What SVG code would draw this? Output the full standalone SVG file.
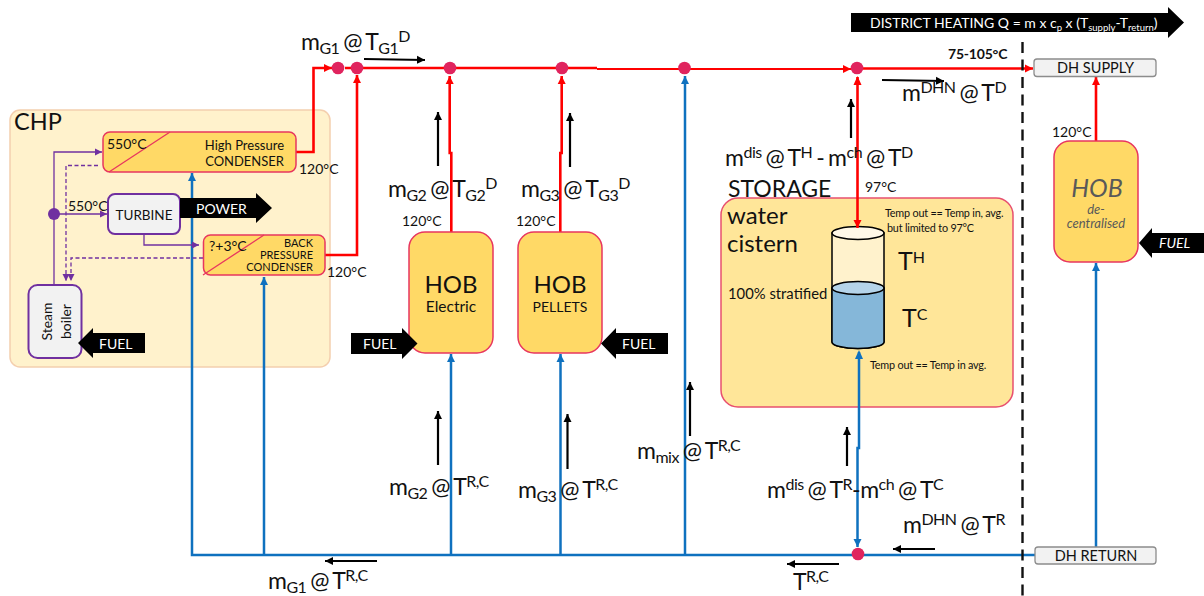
<svg xmlns="http://www.w3.org/2000/svg" width="1204" height="596" viewBox="0 0 1204 596">
<style>
text{font-family:Lato,"Open Sans","Liberation Sans",sans-serif;fill:#111}
.lbl{font-size:23px;word-spacing:-1.500px;letter-spacing:-0.5px}
.sub{font-size:16px}
.t14{font-size:14px}
.t13{font-size:13px}
.note{font-size:10.800px;letter-spacing:-0.2px}
.w{fill:#fff}
.m{text-anchor:middle}
.e{text-anchor:end}
.red{fill:none;stroke:#ff0000;stroke-width:2.6}
.blue{fill:none;stroke:#0f71bf;stroke-width:2.500}
.pur{fill:none;stroke:#7030a0;stroke-width:1.300}
.dash{stroke-dasharray:4 2.500}
.flow{fill:none;stroke:#000;stroke-width:2.200}
.cond{fill:#ffd966;stroke:#e8365f;stroke-width:1.500}
.unit{fill:#f2f2f2;stroke:#7030a0;stroke-width:2}
.term{fill:#f2f2f2;stroke:#8c8c8c;stroke-width:1.300}
.dot{fill:#e0245e}
.cyl{stroke:#000;stroke-width:1.500}
</style>
<defs>
<marker id="ar" markerUnits="userSpaceOnUse" markerWidth="10" markerHeight="10" refX="9" refY="5" orient="auto"><path d="M1 1L9 5L1 9Z" fill="#ff0000"/></marker>
<marker id="ab" markerUnits="userSpaceOnUse" markerWidth="10" markerHeight="10" refX="9" refY="5" orient="auto"><path d="M1 1L9 5L1 9Z" fill="#0f71bf"/></marker>
<marker id="ap" markerUnits="userSpaceOnUse" markerWidth="10" markerHeight="10" refX="8" refY="5" orient="auto"><path d="M1 1.500L8 5L1 8.500Z" fill="#7030a0"/></marker>
<marker id="ak" markerUnits="userSpaceOnUse" markerWidth="10" markerHeight="10" refX="8" refY="5" orient="auto"><path d="M0 1L8 5L0 9Z" fill="#000"/></marker>
</defs>

<g id="chp"><rect x="10" y="110" width="320" height="257" rx="10" fill="#fff2cc" stroke="#f4cfae" stroke-width="1.500"/><text x="14" y="130" font-size="23.500">CHP</text></g>
<g id="storage"><rect x="721" y="198" width="292" height="209" rx="17" fill="#ffe699" stroke="#e8506f" stroke-width="1.500"/>
<text x="728" y="197" font-size="23">STORAGE</text>
<text x="727" y="224" font-size="24">water</text><text x="727" y="252" font-size="24">cistern</text>
<text x="728" y="299" font-size="14.800">100% stratified</text>
<text x="885" y="217" class="note">Temp out == Temp in, avg.</text>
<text x="887" y="232" class="note">but limited to 97°C</text>
<text x="870" y="369" class="note">Temp out == Temp in avg.</text>
<text x="898" y="270" font-size="25">T<tspan font-size="16" dy="-7">H</tspan></text>
<text x="902" y="327" font-size="25">T<tspan font-size="16" dy="-7">C</tspan></text>
<path d="M832 233V342A26 6.500 0 0 0 884 342V233Z" fill="#fff2cc" class="cyl"/>
<path d="M832 288V342A26 6.500 0 0 0 884 342V288Z" fill="#85b7d9" class="cyl"/>
<ellipse cx="858" cy="288" rx="26" ry="6.500" fill="#b5d4ea" class="cyl"/>
<ellipse cx="858" cy="233" rx="26" ry="6.500" fill="#fff8e8" class="cyl"/>
</g>

<g id="connectors">
<path class="blue" d="M1035 555H192V173" marker-end="url(#ab)"/>
<path class="blue" d="M264 555V277" marker-end="url(#ab)"/>
<path class="blue" d="M451 555V354" marker-end="url(#ab)"/>
<path class="blue" d="M560.500 555V354" marker-end="url(#ab)"/>
<path class="blue" d="M685 555V76" marker-end="url(#ab)"/>
<path class="blue" d="M1096 547V263" marker-end="url(#ab)"/>
<path class="blue" d="M859 352V448H857.500V547" marker-end="url(#ab)"/>
<path d="M859 350L855 359H863Z" fill="#0f71bf"/>
<path class="red" d="M296 152H313.500V68H332" marker-end="url(#ar)"/>
<path class="red" d="M325 255H357V75" marker-end="url(#ar)"/>
<path class="red" d="M345 68H597"/>
<path d="M597 69H851" fill="none" stroke="#ff0000" stroke-width="2.200" marker-end="url(#ar)"/>
<path class="red" d="M863 68.500H1033" marker-end="url(#ar)"/>
<path class="red" d="M451.300 232V153H449.700V76" marker-end="url(#ar)"/>
<path class="red" d="M560.300 232V153H561.700V76" marker-end="url(#ar)"/>
<path class="red" d="M857.500 77V228" marker-end="url(#ar)"/>
<path d="M857.500 76L853.500 85H861.500Z" fill="#ff0000"/>
<path class="red" d="M1096 141V77" marker-end="url(#ar)"/>
<path class="pur" d="M54 285V152H102" marker-end="url(#ap)"/>
<path class="pur" d="M54 214H107" marker-end="url(#ap)"/>
<path class="pur" d="M144 234V245H199" marker-end="url(#ap)"/>
<path class="pur dash" d="M98 165.500H66V281" marker-end="url(#ap)"/>
<path class="pur dash" d="M203 258H71V281" marker-end="url(#ap)"/>
<path d="M1022.500 42V596" fill="none" stroke="#111" stroke-width="2.400" stroke-dasharray="11 6.500"/>
<path class="flow" d="M364 59L425 60" marker-end="url(#ak)"/>
<path class="flow" d="M438 166V112" marker-end="url(#ak)"/>
<path class="flow" d="M570 167V113" marker-end="url(#ak)"/>
<path class="flow" d="M851 138V99" marker-end="url(#ak)"/>
<path class="flow" d="M882 80L944 81" marker-end="url(#ak)"/>
<path class="flow" d="M438 465V411" marker-end="url(#ak)"/>
<path class="flow" d="M567.500 469V414" marker-end="url(#ak)"/>
<path class="flow" d="M690 436V382" marker-end="url(#ak)"/>
<path class="flow" d="M847 466V427" marker-end="url(#ak)"/>
<path class="flow" d="M377 561H325" marker-end="url(#ak)"/>
<path class="flow" d="M839 564H787" marker-end="url(#ak)"/>
<path class="flow" d="M935 549H893" marker-end="url(#ak)"/>
<circle class="dot" cx="338" cy="68" r="6.300"/><circle class="dot" cx="357" cy="68" r="6.300"/><circle class="dot" cx="450" cy="68" r="6.300"/><circle class="dot" cx="562" cy="68" r="6.300"/><circle class="dot" cx="684.500" cy="68" r="6.300"/><circle class="dot" cx="857" cy="68" r="6.300"/><circle class="dot" cx="858" cy="554" r="6.300"/>
<circle cx="54" cy="214" r="6" fill="#7030a0"/>
</g>

<g id="hp-condenser"><rect class="cond" x="103" y="132" width="193" height="40" rx="7"/><path d="M109 172L170 132" stroke="#e8365f" stroke-width="1.300"/>
<text x="107" y="149" class="t14">550°C</text>
<text x="284" y="150" class="t13 e">High Pressure</text><text x="284" y="166" class="t13 e">CONDENSER</text></g>
<g id="turbine"><rect class="unit" x="108" y="194" width="72" height="40" rx="7"/><text x="144" y="220" class="m" font-size="13.500">TURBINE</text></g>
<g id="bp-condenser"><rect class="cond" x="203.500" y="235" width="121.500" height="40" rx="7"/><path d="M203 275L264 235" stroke="#e8365f" stroke-width="1.300"/>
<text x="209" y="251" class="t14">?+3°C</text>
<text x="313" y="247" font-size="11" class="e">BACK</text><text x="313" y="259" font-size="11" class="e">PRESSURE</text><text x="313" y="271" font-size="11" class="e">CONDENSER</text></g>
<g id="steam-boiler"><rect class="unit" x="28.500" y="285" width="53" height="73" rx="9"/>
<text transform="translate(52 321.500) rotate(-90)" class="t14 m">Steam</text><text transform="translate(71 321.500) rotate(-90)" class="t14 m">boiler</text></g>
<g id="power"><path d="M180 198H256V193L272 208L256 223V218H180Z" fill="#000"/><text x="196" y="214" class="t14 w">POWER</text></g>
<g id="fuel-chp"><path d="M78 343L93 328V333H145V353H93V358Z" fill="#000"/><text x="99" y="349" class="t14 w">FUEL</text></g>
<g id="hob-electric"><rect class="cond" x="409" y="232" width="84" height="121" rx="16"/><text x="451" y="293" font-size="24" class="m">HOB</text><text x="451" y="312" font-size="15.500" class="m">Electric</text></g>
<g id="fuel-electric"><path d="M351 333H402V328L417.500 343.500L402 359V354H351Z" fill="#000"/><text x="363" y="349" class="t14 w">FUEL</text></g>
<g id="hob-pellets"><rect class="cond" x="518" y="232" width="84" height="121" rx="16"/><text x="560" y="293" font-size="24" class="m">HOB</text><text x="560" y="312" class="t14 m">PELLETS</text></g>
<g id="fuel-pellets"><path d="M601 343.500L616 328V333H668V354H616V359Z" fill="#000"/><text x="622" y="349" class="t14 w">FUEL</text></g>
<g id="hob-decentral"><rect class="cond" x="1054" y="141" width="84" height="121" rx="16"/>
<text x="1097" y="197" font-size="25" font-style="italic" class="m" style="fill:#595959">HOB</text>
<text x="1096" y="214" font-size="13" font-style="italic" class="m" style="fill:#595959">de-</text>
<text x="1096" y="228" font-size="13" font-style="italic" class="m" style="fill:#595959">centralised</text></g>
<g id="fuel-hob"><path d="M1139 243L1152 228V233H1204V253H1152V258Z" fill="#000"/><text x="1159" y="248" class="t14 w" font-style="italic">FUEL</text></g>
<g id="dh-banner"><path d="M851 13H1168V7L1184 22.500L1168 38V32H851Z" fill="#000"/>
<text x="870" y="28" class="t14 w">DISTRICT HEATING Q = m x c<tspan font-size="9.500" dy="3">p</tspan><tspan dy="-3"> x (T</tspan><tspan font-size="9.500" dy="3">supply</tspan><tspan dy="-3">-T</tspan><tspan font-size="9.500" dy="3">return</tspan><tspan dy="-3">)</tspan></text></g>
<g id="dh-supply"><rect class="term" x="1034" y="59" width="122" height="17.500" rx="3"/><text x="1095.500" y="73" font-size="14.500" class="m">DH SUPPLY</text></g>
<g id="dh-return"><rect class="term" x="1035" y="547" width="121" height="17" rx="3"/><text x="1096" y="561" font-size="14.500" class="m">DH RETURN</text></g>

<g id="labels">
<text x="948" y="59" font-size="14" font-weight="700" letter-spacing="-0.2">75-105°C</text>
<text x="299" y="174" class="t14">120°C</text>
<text x="327" y="277" class="t14">120°C</text>
<text x="402" y="226" class="t14">120°C</text>
<text x="516" y="226" class="t14">120°C</text>
<text x="1052" y="137" class="t14">120°C</text>
<text x="865" y="192" class="t14">97°C</text>
<text x="68" y="211" class="t14">550°C</text>
<text x="301" y="50" class="lbl">m<tspan class="sub" dy="4">G1</tspan><tspan dy="-4"> @ T</tspan><tspan class="sub" dy="4">G1</tspan><tspan class="sub" dy="-12">D</tspan></text>
<text x="388" y="197" class="lbl">m<tspan class="sub" dy="4">G2</tspan><tspan dy="-4"> @ T</tspan><tspan class="sub" dy="4">G2</tspan><tspan class="sub" dy="-12">D</tspan></text>
<text x="521" y="197" class="lbl">m<tspan class="sub" dy="4">G3</tspan><tspan dy="-4"> @ T</tspan><tspan class="sub" dy="4">G3</tspan><tspan class="sub" dy="-12">D</tspan></text>
<text x="902" y="101" class="lbl">m<tspan class="sub" dy="-8">DHN</tspan><tspan dy="8"> @ T</tspan><tspan class="sub" dy="-8">D</tspan></text>
<text x="725" y="166" class="lbl">m<tspan class="sub" dy="-8">dis</tspan><tspan dy="8"> @ T</tspan><tspan class="sub" dy="-8">H</tspan><tspan dy="8"> - m</tspan><tspan class="sub" dy="-8">ch</tspan><tspan dy="8"> @ T</tspan><tspan class="sub" dy="-8">D</tspan></text>
<text x="389" y="495" class="lbl">m<tspan class="sub" dy="4">G2</tspan><tspan dy="-4"> @ T</tspan><tspan class="sub" dy="-8">R,C</tspan></text>
<text x="518" y="498" class="lbl">m<tspan class="sub" dy="4">G3</tspan><tspan dy="-4"> @ T</tspan><tspan class="sub" dy="-8">R,C</tspan></text>
<text x="637" y="459" class="lbl">m<tspan class="sub" dy="4">mix</tspan><tspan dy="-4"> @ T</tspan><tspan class="sub" dy="-8">R,C</tspan></text>
<text x="268" y="589" class="lbl">m<tspan class="sub" dy="4">G1</tspan><tspan dy="-4"> @ T</tspan><tspan class="sub" dy="-8">R,C</tspan></text>
<text x="767" y="498" class="lbl">m<tspan class="sub" dy="-8">dis</tspan><tspan dy="8"> @ T</tspan><tspan class="sub" dy="-8">R</tspan><tspan dy="8">-m</tspan><tspan class="sub" dy="-8">ch</tspan><tspan dy="8"> @ T</tspan><tspan class="sub" dy="-8">C</tspan></text>
<text x="903" y="533" class="lbl">m<tspan class="sub" dy="-8">DHN</tspan><tspan dy="8"> @ T</tspan><tspan class="sub" dy="-8">R</tspan></text>
<text x="793" y="590" class="lbl">T<tspan class="sub" dy="-8">R,C</tspan></text>
</g>
</svg>
